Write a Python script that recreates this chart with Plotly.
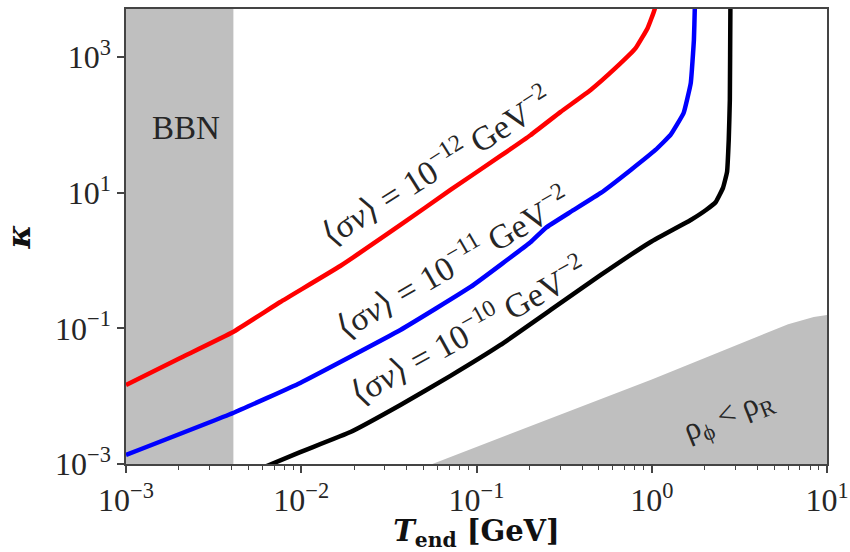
import numpy as np
import plotly.graph_objects as go

# --- data ---
T_red = [0.001, 0.00204, 0.00408, 0.00759, 0.0167, 0.0368, 0.0710,
         0.137, 0.204, 0.302, 0.448, 0.622, 0.811, 0.948, 1.04, 1.08]
k_red = [0.0146, 0.0366, 0.0885, 0.245, 0.832, 3.35, 11.0,
         34.9, 71.2, 156, 328, 693, 1368, 2698, 5140, 19320]

T_blue = [0.001, 0.00408, 0.00986, 0.0368, 0.0925, 0.204, 0.248, 0.344, 0.512, 0.759, 1.05, 1.28,
          1.52, 1.67, 1.74, 1.76, 1.77]
k_blue = [0.00136, 0.00565, 0.0157, 0.0946, 0.408, 1.88, 3.03, 5.21, 9.93, 21.7, 42.8, 71.3,
          150, 416, 1795, 5140, 19320]

T_black = [0.00598, 0.00986, 0.0191, 0.0368, 0.0710, 0.137, 0.265, 0.512, 0.986, 1.67, 2.04, 2.32,
           2.55, 2.69, 2.75, 2.79, 2.81, 2.83]
k_black = [0.000873, 0.00150, 0.00296, 0.00741, 0.0199, 0.0569, 0.187, 0.614, 1.88, 3.97, 5.57, 7.31,
           11.8, 20.3, 60.1, 234, 5140, 19320]

# excluded regions
T_bbn = 0.0041
T_rho = [0.056, 1.0, 6.0, 8.4, 10.0]
k_rho = [0.001, 0.0177, 0.115, 0.147, 0.158]

x_tickvals = [1e-3, 1e-2, 1e-1, 1e0, 1e1]
x_ticktext = ["10<sup>−3</sup>", "10<sup>−2</sup>", "10<sup>−1</sup>", "10<sup>0</sup>", "10<sup>1</sup>"]
y_tickvals = [1e-3, 1e-1, 1e1, 1e3]
y_ticktext = ["10<sup>−3</sup>", "10<sup>−1</sup>", "10<sup>1</sup>", "10<sup>3</sup>"]

labels = ["⟨σ<i>v</i>⟩ = 10<sup>−12</sup> GeV<sup>−2</sup>",
          "⟨σ<i>v</i>⟩ = 10<sup>−11</sup> GeV<sup>−2</sup>",
          "⟨σ<i>v</i>⟩ = 10<sup>−10</sup> GeV<sup>−2</sup>"]
label_T = [0.058, 0.0729, 0.0890]
label_k = [26.0, 1.0, 0.0985]
label_ang = [-32, -30, -29]

GRAY = "#bfbfbf"
FONT = "Liberation Serif"
TXT = "#262626"

fig = go.Figure()

# BBN band
fig.add_trace(go.Scatter(x=[1e-3, T_bbn, T_bbn, 1e-3], y=[1e-4, 1e-4, 1e5, 1e5],
                         fill="toself", fillcolor=GRAY, mode="none", hoverinfo="skip", showlegend=False))
# rho_phi < rho_R region
fig.add_trace(go.Scatter(x=T_rho + [10.0, T_rho[0]], y=k_rho + [1e-4, 1e-4],
                         fill="toself", fillcolor=GRAY, mode="none", hoverinfo="skip", showlegend=False))

for T, k, c in [(T_red, k_red, "#ff0000"), (T_blue, k_blue, "#0000ff"), (T_black, k_black, "#000000")]:
    fig.add_trace(go.Scatter(x=T, y=k, mode="lines", line=dict(color=c, width=4.5, shape="spline", smoothing=0.3),
                             showlegend=False))

for txt, xt, yk, a in zip(labels, label_T, label_k, label_ang):
    fig.add_annotation(x=np.log10(xt), y=np.log10(yk), text=txt, textangle=a, showarrow=False,
                       font=dict(family=FONT, size=34, color=TXT))

fig.add_annotation(x=np.log10(0.0022), y=np.log10(90), text="BBN", showarrow=False,
                   font=dict(family=FONT, size=33, color=TXT))
fig.add_annotation(x=np.log10(2.75), y=np.log10(0.0052), text="ρ<sub>ϕ</sub> < ρ<sub>R</sub>",
                   textangle=-22, showarrow=False, font=dict(family=FONT, size=32, color=TXT))

axis_common = dict(type="log", showgrid=False, zeroline=False, showline=True, mirror=True,
                   automargin=False,
                   linecolor="#444444", linewidth=1.5, ticks="outside", tickcolor="#444444",
                   tickwidth=1.5, ticklen=7, tickfont=dict(family=FONT, size=32, color=TXT))

fig.update_xaxes(**axis_common, range=[-3, 1], tickvals=x_tickvals, ticktext=x_ticktext,
                 minor=dict(ticks="outside", ticklen=4, tickcolor="#444444", tickwidth=1,
                            tickvals=[m * 10.0 ** e for e in range(-3, 1) for m in range(2, 10)]),
                 title=dict(text="<b><i>T</i><sub>end</sub> [GeV]</b>",
                            font=dict(family="DejaVu Serif", size=29, color="#111111"), standoff=4))
fig.update_yaxes(**axis_common, range=[-3, 3.71], tickvals=y_tickvals, ticktext=y_ticktext,
                 title=dict(text="<b><i>κ</i></b>", font=dict(family="DejaVu Serif", size=32, color="#111111"),
                            standoff=20))

fig.update_layout(width=850, height=552, margin=dict(l=126, r=23, t=9, b=88),
                  plot_bgcolor="white", paper_bgcolor="white")

fig.write_html("out.html")
